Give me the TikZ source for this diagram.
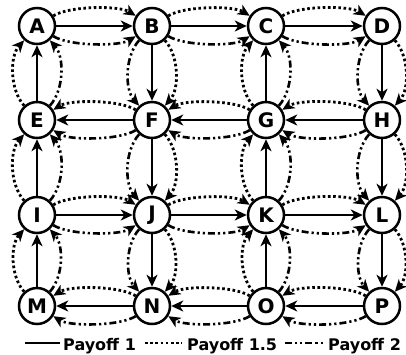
\documentclass[tikz,border=0pt]{standalone}
\usepackage{fontspec}
\setmainfont{DejaVu Sans}
\usetikzlibrary{arrows.meta}
\begin{document}
\begin{tikzpicture}[x=1pt,y=-1pt,
  state/.style={circle,draw,line width=2.5pt,minimum size=36pt,inner sep=0pt,
    font=\fontsize{20}{20}\selectfont\bfseries},
  tip/.style={-{Stealth[length=12pt,width=11pt,inset=3.5pt]}},
  pay one/.style={line width=2.5pt},
  pay mid/.style={line width=2.8pt,dash pattern=on 2.6pt off 2.6pt},
  pay two/.style={line width=2.6pt,dash pattern=on 7pt off 3pt on 2.2pt off 3pt on 2.2pt off 3pt},
  hbend/.style={bend #1=32,looseness=.6},
  vbend/.style={bend #1=42,looseness=.85},
  legend/.style={font=\fontsize{16}{16}\selectfont\bfseries,anchor=base west,inner sep=0pt},
]
\useasboundingbox (0,0) rectangle (406,354);

% states
\foreach \n/\x/\y in {A/37/26,B/152/26,C/266/26,D/382/26,
                      E/37/120,F/152/120,G/266/120,H/382/120,
                      I/37/215,J/152/215,K/266/215,L/382/215,
                      M/37/306,N/152/306,O/266/306,P/382/306}
  \node[state] (\n) at (\x,\y) {\n};

% rows heading right
\foreach \a/\b in {A/B,B/C,C/D,I/J,J/K,K/L} {
  \draw[pay one,tip] (\a) -- (\b);
  \draw[pay mid,tip,hbend=left] (\a) to (\b);
  \draw[pay two,tip,hbend=right] (\a) to (\b);
}
% rows heading left
\foreach \a/\b in {F/E,G/F,H/G,N/M,O/N,P/O} {
  \draw[pay one,tip] (\a) -- (\b);
  \draw[pay mid,tip,hbend=right] (\a) to (\b);
  \draw[pay two,tip,hbend=left] (\a) to (\b);
}
% columns
\foreach \a/\b in {E/A,I/E,M/I,G/C,K/G,O/K,B/F,F/J,J/N,D/H,H/L,L/P} {
  \draw[pay one,tip] (\a) -- (\b);
  \draw[pay mid,tip,vbend=left] (\a) to (\b);
  \draw[pay two,tip,vbend=right] (\a) to (\b);
}

% legend
\coordinate (l1a) at (25,343); \coordinate (l1b) at (60,343);
\coordinate (l2a) at (145,343); \coordinate (l2b) at (182,343);
\coordinate (l3a) at (285,343); \coordinate (l3b) at (323,343);
\draw[pay one] (l1a) -- (l1b);
\draw[pay mid] (l2a) -- (l2b);
\draw[pay two] (l3a) -- (l3b);
\node[legend] (t1) at (63,350) {Payoff 1};
\node[legend] (t2) at (187,350) {Payoff 1.5};
\node[legend] (t3) at (328,350) {Payoff 2};
\end{tikzpicture}
\end{document}
